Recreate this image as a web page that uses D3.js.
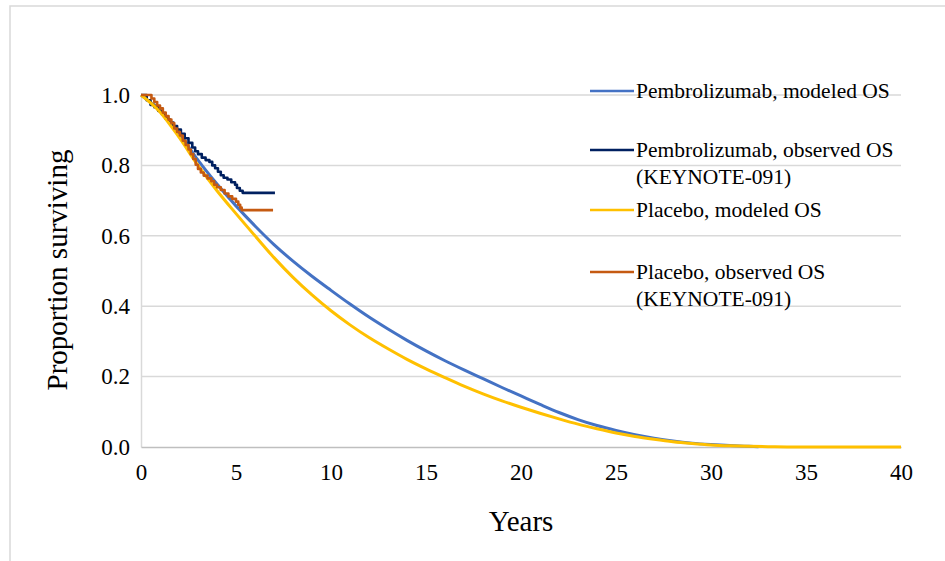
<!DOCTYPE html>
<html>
<head>
<meta charset="utf-8">
<script src="https://cdn.jsdelivr.net/npm/d3@7"></script>
<style>
  html, body { margin: 0; padding: 0; background: #fff; }
  svg { display: block; }
</style>
</head>
<body>
<svg id="chart" width="945" height="561"></svg>
<script>
// ---- data ----
const modeledYearsPembro = [0,1,2,3,4,5,6,7,8,9,10,11,12,13,14,15,16,17,18,19,20,21,22,23,24,25,26,27,28,29,30,31,32,32.5];
const modeledPembro =      [1.000,0.955,0.892,0.815,0.747,0.685,0.628,0.575,0.528,0.485,0.445,0.406,0.369,0.335,0.303,0.273,0.245,0.219,0.194,0.169,0.145,0.121,0.098,0.078,0.061,0.047,0.035,0.025,0.017,0.011,0.007,0.004,0.002,0.001];

const modeledYearsPlacebo = [0,1,2,3,4,5,6,7,8,9,10,11,12,13,14,15,16,17,18,19,20,21,22,23,24,25,26,27,28,29,30,31,32,33,34,35,36,37,38,39,40];
const modeledPlacebo =      [1.000,0.952,0.880,0.800,0.728,0.663,0.600,0.538,0.482,0.432,0.387,0.347,0.311,0.279,0.249,0.222,0.197,0.173,0.151,0.131,0.113,0.096,0.080,0.065,0.052,0.040,0.030,0.022,0.015,0.010,0.006,0.0035,0.002,0.001,0.0003,0,0,0,0,0,0];

const kmYearsPembro = [0,0.3,0.5,0.7,0.9,1.1,1.3,1.5,1.7,1.9,2.1,2.3,2.5,2.7,2.85,3.0,3.2,3.4,3.6,3.75,3.9,4.05,4.2,4.35,4.55,4.75,4.95,5.05,5.2,5.35,7.05];
const kmPembro =      [1.000,0.985,0.972,0.965,0.955,0.945,0.932,0.922,0.912,0.902,0.890,0.877,0.864,0.851,0.840,0.832,0.822,0.815,0.810,0.800,0.792,0.782,0.772,0.765,0.760,0.752,0.745,0.736,0.728,0.722,0.722];

const kmYearsPlacebo = [0,0.55,0.7,0.85,1.0,1.15,1.3,1.45,1.6,1.75,1.9,2.05,2.2,2.35,2.5,2.62,2.75,2.88,3.0,3.15,3.3,3.5,3.7,3.85,4.0,4.2,4.4,4.6,4.8,5.0,5.12,5.22,5.3,6.95];
const kmPlacebo =      [1.000,0.990,0.980,0.970,0.962,0.950,0.940,0.930,0.920,0.905,0.895,0.885,0.870,0.858,0.845,0.832,0.818,0.802,0.790,0.780,0.771,0.763,0.755,0.745,0.738,0.730,0.720,0.712,0.705,0.697,0.688,0.680,0.673,0.673];

const xTicks = [0,5,10,15,20,25,30,35,40];
const yTicks = [0,0.2,0.4,0.6,0.8,1.0];

const seriesNames = ["Pembrolizumab, modeled OS", "Pembrolizumab, observed OS|(KEYNOTE-091)", "Placebo, modeled OS", "Placebo, observed OS|(KEYNOTE-091)"];
const seriesColors = ["#4472c4", "#002060", "#ffc000", "#c55a11"];

// ---- layout ----
const FONT = '"Liberation Serif", "Times New Roman", serif';
const svg = d3.select("#chart");
const margin = {left: 141, right: 44, top: 95, bottom: 114};
const W = 945, H = 561;
const x = d3.scaleLinear().domain([0, 40]).range([margin.left, W - margin.right]);
const y = d3.scaleLinear().domain([0, 1]).range([H - margin.bottom, margin.top]);

// outer frame
svg.append("rect").attr("x", 10).attr("y", 6).attr("width", 1000).attr("height", 600)
  .attr("fill", "none").attr("stroke", "#d9d9d9").attr("stroke-width", 1.5);

// gridlines
svg.append("g").selectAll("line").data(yTicks.filter(d => d > 0)).join("line")
  .attr("x1", x(0)).attr("x2", x(40)).attr("y1", d => y(d)).attr("y2", d => y(d))
  .attr("stroke", "#d9d9d9").attr("stroke-width", 1.5);

// axes
const yAxis = svg.append("g").attr("transform", `translate(${x(0)},0)`)
  .call(d3.axisLeft(y).tickValues(yTicks).tickFormat(d3.format(".1f")).tickSize(0).tickPadding(11));
yAxis.attr("font-family", null).attr("font-size", null);
yAxis.select(".domain").attr("stroke", "#d9d9d9").attr("stroke-width", 1.5);
yAxis.selectAll("text").style("font-family", FONT).style("font-size", "23px").attr("fill", "#000");

const xAxis = svg.append("g").attr("transform", `translate(0,${y(0)})`)
  .call(d3.axisBottom(x).tickValues(xTicks).tickFormat(d3.format("d")).tickSize(0).tickPadding(17));
xAxis.attr("font-family", null).attr("font-size", null);
xAxis.select(".domain").attr("stroke", "#bfbfbf").attr("stroke-width", 1.5);
xAxis.selectAll("text").style("font-family", FONT).style("font-size", "23px").attr("fill", "#000");

// axis titles
svg.append("text").attr("x", 521).attr("y", 531).attr("text-anchor", "middle")
  .style("font-family", FONT).style("font-size", "29px").text("Years");
svg.append("text").attr("transform", `translate(67,270) rotate(-90)`).attr("text-anchor", "middle")
  .style("font-family", FONT).style("font-size", "29px").text("Proportion surviving");

// lines
const lineSmooth = d3.line().x(d => x(d[0])).y(d => y(d[1])).curve(d3.curveMonotoneX);
const lineStep = d3.line().x(d => x(d[0])).y(d => y(d[1])).curve(d3.curveStepAfter);

const series = [
  {pts: d3.zip(modeledYearsPembro, modeledPembro), gen: lineSmooth, w: 3},
  {pts: d3.zip(kmYearsPembro, kmPembro), gen: lineStep, w: 2.6},
  {pts: d3.zip(modeledYearsPlacebo, modeledPlacebo), gen: lineSmooth, w: 3},
  {pts: d3.zip(kmYearsPlacebo, kmPlacebo), gen: lineStep, w: 2.6}
];
series.forEach((s, i) => {
  svg.append("path").attr("d", s.gen(s.pts)).attr("fill", "none")
    .attr("stroke", seriesColors[i]).attr("stroke-width", s.w)
    .attr("stroke-linejoin", "round");
});

// legend
const legendY = [91, 150, 210, 272];
const lg = svg.append("g");
seriesNames.forEach((name, i) => {
  lg.append("line").attr("x1", 590).attr("x2", 634).attr("y1", legendY[i]).attr("y2", legendY[i])
    .attr("stroke", seriesColors[i]).attr("stroke-width", 2.6);
  const t = lg.append("text").attr("x", 636).attr("y", legendY[i] + 7)
    .style("font-family", FONT).style("font-size", "21.5px").attr("fill", "#000");
  name.split("|").forEach((part, j) => {
    t.append("tspan").attr("x", 636).attr("dy", j === 0 ? 0 : 27).text(part);
  });
});
</script>
</body>
</html>
